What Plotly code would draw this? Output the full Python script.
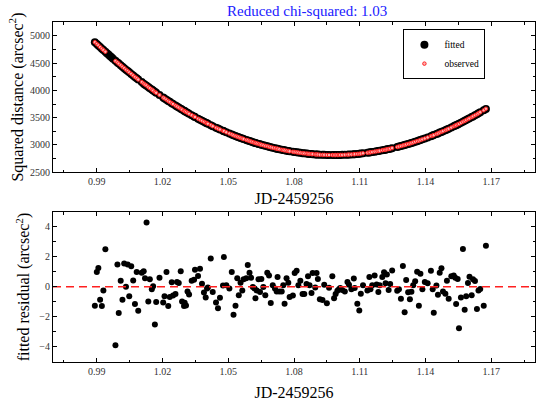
import plotly.graph_objects as go

jd = [0.9891, 0.9900, 0.9907, 0.9915, 0.9923, 0.9930, 0.9939, 0.9985, 0.9994, 1.0000,
      1.0009, 1.0017, 1.0025, 1.0033, 1.0041, 1.0048, 1.0057, 1.0066, 1.0074, 1.0082,
      1.0089, 1.0105, 1.0114, 1.0120, 1.0127, 1.0135, 1.0142, 1.0151, 1.0157, 1.0165,
      1.0171, 1.0186, 1.0203, 1.0209, 1.0218, 1.0226, 1.0233, 1.0242, 1.0248, 1.0259,
      1.0266, 1.0274, 1.0283, 1.0289, 1.0298, 1.0301, 1.0307, 1.0314, 1.0321, 1.0333,
      1.0344, 1.0348, 1.0362, 1.0371, 1.0380, 1.0389, 1.0397, 1.0403, 1.0407, 1.0420,
      1.0429, 1.0444, 1.0453, 1.0462, 1.0476, 1.0480, 1.0491, 1.0505, 1.0516, 1.0524,
      1.0533, 1.0541, 1.0548, 1.0556, 1.0564, 1.0570, 1.0582, 1.0589, 1.0597, 1.0604,
      1.0612, 1.0620, 1.0624, 1.0630, 1.0638, 1.0645, 1.0651, 1.0660, 1.0669, 1.0678,
      1.0686, 1.0694, 1.0703, 1.0713, 1.0721, 1.0725, 1.0733, 1.0744, 1.0751, 1.0757,
      1.0766, 1.0774, 1.0780, 1.0795, 1.0803, 1.0812, 1.0820, 1.0829, 1.0839, 1.0847,
      1.0857, 1.0864, 1.0871, 1.0880, 1.0885, 1.0897, 1.0903, 1.0909, 1.0918, 1.0930,
      1.0938, 1.0950, 1.0960, 1.0975, 1.0983, 1.0990, 1.0998, 1.1005, 1.1011, 1.1020,
      1.1032, 1.1044, 1.1051, 1.1062, 1.1073, 1.1077, 1.1089, 1.1098, 1.1105, 1.1115,
      1.1135, 1.1144, 1.1149, 1.1157, 1.1168, 1.1177, 1.1185, 1.1191, 1.1203, 1.1211,
      1.1218, 1.1224, 1.1232, 1.1239, 1.1248, 1.1271, 1.1279, 1.1288, 1.1297, 1.1305,
      1.1312, 1.1321, 1.1329, 1.1336, 1.1344, 1.1353, 1.1362, 1.1370, 1.1377, 1.1386,
      1.1397, 1.1410, 1.1425, 1.1433, 1.1438, 1.1450, 1.1457, 1.1465, 1.1473, 1.1480,
      1.1491, 1.1498, 1.1506, 1.1518, 1.1529, 1.1536, 1.1540, 1.1547, 1.1553, 1.1562,
      1.1571, 1.1579, 1.1586, 1.1594, 1.1601, 1.1611, 1.1617, 1.1626, 1.1635, 1.1642,
      1.1650, 1.1666, 1.1676]

residual = [-1.28, 0.98, 1.25, -0.87, -1.30, -0.25, 2.50, -3.92, 1.48, -1.77,
            0.40, -0.87, 1.56, 0.00, 1.48, -0.65, 1.36, 0.42, -1.17, 0.98,
            -1.61, 0.94, 1.03, 0.56, 4.30, -0.99, 0.49, -0.18, 0.02, -2.53,
            -1.03, 0.60, -1.07, -0.65, 0.98, -1.30, -0.70, 0.29, -0.60, -0.50,
            0.31, 0.24, 1.03, -0.99, -1.30, -1.08, -1.26, -0.32, -0.52, 0.40,
            0.47, 1.14, 0.71, 1.20, 0.20, -0.40, -0.72, -0.13, -0.05, 1.88,
            -0.36, -1.07, -1.44, -0.74, 0.07, 1.99, 0.09, -0.13, 0.98, -1.88,
            -1.28, 0.56, -0.58, 0.27, -0.25, 0.49, 0.56, 1.45, 0.94, 0.60,
            -0.02, -0.13, -0.77, -0.25, 0.49, -0.36, 0.51, -0.02, -0.58, 0.94,
            0.74, -1.10, 0.09, -0.13, -0.32, 0.65, -0.32, -0.32, 0.09, -1.14,
            0.56, 0.27, -0.70, -0.60, 0.91, 1.07, 0.09, 0.40, -0.50, -0.50,
            0.17, 0.69, 0.09, -0.43, 0.91, -0.05, 0.91, 0.51, -0.85, -0.90,
            0.13, -1.12, -0.07, 0.69, -0.77, -0.50, -0.27, -0.18, -0.09, -0.23,
            -0.32, 0.31, 0.13, -0.18, 0.54, -0.09, -1.14, -1.59, -0.47, 0.09,
            -0.25, 0.65, -0.18, 0.09, 0.74, 0.15, -0.36, 0.09, 0.65, 0.96,
            0.22, 0.81, -0.23, 0.17, 1.09, -0.27, -0.18, -0.81, 1.38, -1.72,
            0.44, -0.38, -0.85, -0.34, 0.09, 0.36, 1.00, -1.28, 0.87, -0.18,
            0.31, 0.22, 1.07, -0.18, -1.75, 0.07, -0.54, 0.94, 1.23, -0.32,
            -0.47, 0.40, -0.81, 0.69, 0.74, 0.60, -1.17, 0.51, -2.78, -0.72,
            2.52, -1.54, -0.65, 0.24, 0.67, -0.58, 0.49, 0.38, -1.50, -0.25,
            -0.16, -1.28, 2.75]

fitted = [4887, 4853, 4827, 4797, 4767, 4741, 4708, 4545, 4513, 4493,
          4462, 4435, 4408, 4381, 4355, 4332, 4303, 4274, 4248, 4223,
          4201, 4152, 4124, 4106, 4085, 4062, 4041, 4015, 3997, 3974,
          3957, 3915, 3869, 3852, 3828, 3807, 3789, 3765, 3750, 3722,
          3704, 3684, 3662, 3648, 3626, 3619, 3605, 3588, 3572, 3545,
          3520, 3511, 3480, 3461, 3442, 3423, 3407, 3395, 3387, 3361,
          3343, 3315, 3298, 3282, 3257, 3250, 3230, 3207, 3189, 3176,
          3162, 3149, 3139, 3127, 3115, 3106, 3089, 3080, 3069, 3059,
          3049, 3039, 3034, 3026, 3017, 3008, 3001, 2991, 2981, 2972,
          2963, 2955, 2946, 2937, 2929, 2926, 2919, 2909, 2904, 2899,
          2892, 2886, 2882, 2872, 2867, 2861, 2857, 2852, 2847, 2843,
          2838, 2836, 2833, 2830, 2828, 2824, 2822, 2821, 2819, 2816,
          2815, 2814, 2813, 2812, 2812, 2812, 2813, 2813, 2814, 2815,
          2817, 2819, 2821, 2824, 2827, 2828, 2833, 2836, 2839, 2844,
          2854, 2859, 2862, 2867, 2874, 2880, 2886, 2890, 2899, 2905,
          2911, 2916, 2923, 2929, 2938, 2960, 2968, 2978, 2988, 2997,
          3005, 3016, 3025, 3034, 3044, 3055, 3067, 3078, 3088, 3100,
          3116, 3136, 3159, 3171, 3179, 3199, 3210, 3224, 3237, 3250,
          3269, 3282, 3296, 3318, 3339, 3353, 3361, 3375, 3387, 3405,
          3423, 3440, 3455, 3472, 3487, 3509, 3522, 3542, 3563, 3579,
          3598, 3636, 3660]

# fitted-model samples in the short stretch without observations (read from the black band)
gap_jd = [0.9946, 0.9953, 0.9960, 0.9967, 0.9974]
gap_fitted = [4683, 4658, 4633, 4608, 4583]

observed = [f + r for f, r in zip(fitted, residual)]

title_text = "Reduced chi-squared: 1.03"
x_ticks = [0.99, 1.02, 1.05, 1.08, 1.11, 1.14, 1.17]

FONT = "Liberation Serif"

fig = go.Figure()
fig.add_trace(go.Scatter(x=jd + gap_jd, y=fitted + gap_fitted, mode="markers", name="fitted",
                         marker=dict(color="black", size=8, symbol="circle"),
                         xaxis="x", yaxis="y"))
fig.add_trace(go.Scatter(x=jd, y=observed, mode="markers", name="observed",
                         marker=dict(color="#ffb0b0", size=3.5, symbol="circle",
                                     line=dict(color="#ff2020", width=1)),
                         xaxis="x", yaxis="y"))
fig.add_trace(go.Scatter(x=jd, y=residual, mode="markers", showlegend=False,
                         marker=dict(color="black", size=6),
                         xaxis="x2", yaxis="y2"))
fig.add_trace(go.Scatter(x=[0.97, 1.19], y=[0, 0], mode="lines", showlegend=False,
                         line=dict(color="#ff2020", width=1.5, dash="8px,5px"),
                         xaxis="x2", yaxis="y2"))

def xaxis_cfg(domain_anchor, standoff):
    return dict(anchor=domain_anchor, domain=[0, 1],
                range=[0.97, 1.19], tickvals=x_ticks, tickformat=".2f",
                ticks="inside", ticklen=4, tickcolor="black", showline=True,
                linecolor="black", linewidth=1, mirror="ticks", showgrid=False,
                zeroline=False, tickfont=dict(family=FONT, size=10, color="#333"),
                minor=dict(ticks="inside", ticklen=2.5, dtick=0.015, tick0=0.975,
                           tickcolor="black", showgrid=False),
                title=dict(text="JD-2459256", font=dict(family=FONT, size=16, color="black"),
                           standoff=standoff))

ycommon = dict(ticks="inside", ticklen=4, tickcolor="black", showline=True,
               linecolor="black", linewidth=1, mirror="ticks", showgrid=False,
               zeroline=False, tickfont=dict(family=FONT, size=10, color="#333"))

fig.update_layout(
    width=536, height=408,
    margin=dict(l=53, r=1, t=22, b=46),
    paper_bgcolor="white", plot_bgcolor="white",
    font=dict(family=FONT, color="black"),
    xaxis=xaxis_cfg("y", 6),
    xaxis2=xaxis_cfg("y2", 10),
    yaxis=dict(domain=[0.5588, 1], anchor="x", range=[2500, 5257],
               dtick=500, tick0=2500,
               minor=dict(ticks="inside", ticklen=2.5, dtick=250, tickcolor="black", showgrid=False),
               title=dict(text="Squared distance (arcsec<sup>2</sup>)",
                          font=dict(family=FONT, size=16, color="black"), standoff=2),
               **ycommon),
    yaxis2=dict(domain=[0, 0.441], anchor="x2", range=[-5.05, 5.0],
                tickvals=[-4, -2, 0, 2, 4],
                minor=dict(ticks="inside", ticklen=2.5, dtick=1, tickcolor="black", showgrid=False),
                title=dict(text="fitted residual (arcsec<sup>2</sup>)",
                           font=dict(family=FONT, size=16, color="black"), standoff=5),
                **ycommon),
    legend=dict(x=0.727, y=0.979, xanchor="left", yanchor="top",
                bgcolor="white", bordercolor="black", borderwidth=1,
                font=dict(family=FONT, size=9.5, color="black"),
                itemwidth=30, tracegroupgap=0),
    annotations=[dict(text=title_text, x=0.527, y=1, xref="paper", yref="paper",
                      xanchor="center", yanchor="bottom", yshift=1, showarrow=False,
                      font=dict(family=FONT, size=15, color="#2020ff"))],
    showlegend=True,
)

fig.write_html("out.html")
